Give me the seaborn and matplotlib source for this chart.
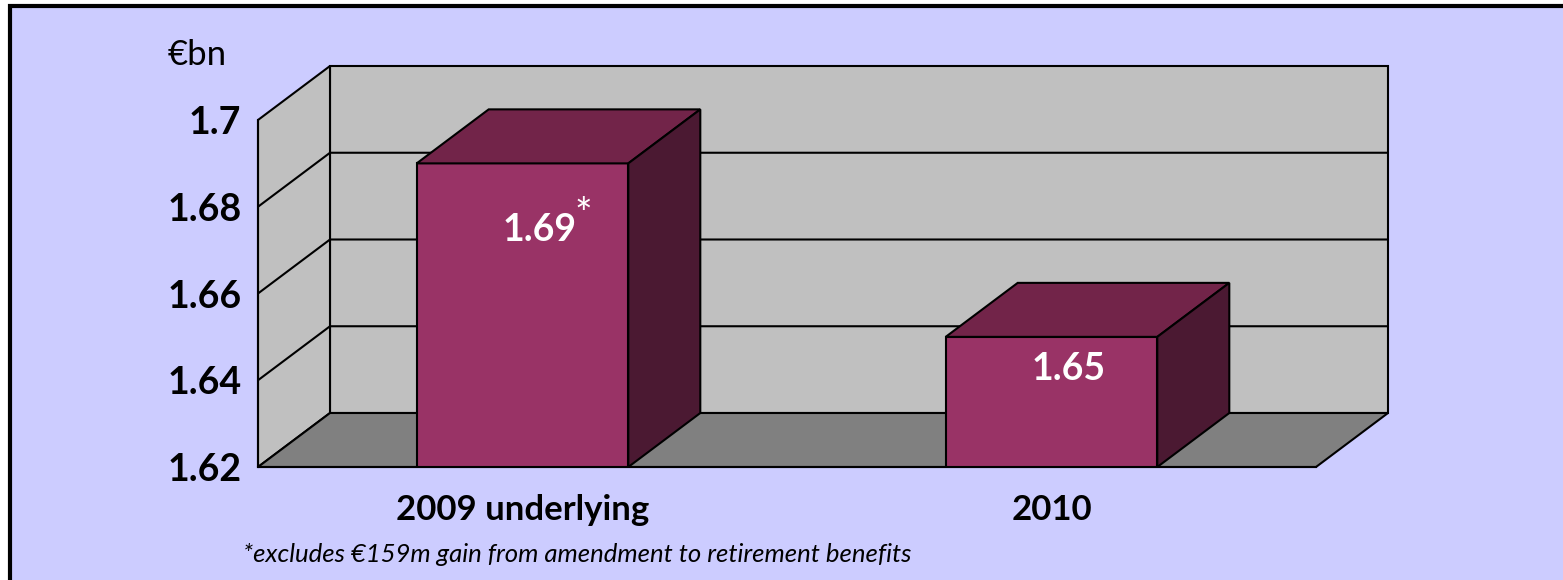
import numpy as np
import pandas as pd
import matplotlib
matplotlib.use("Agg")
import matplotlib.pyplot as plt
from matplotlib.patches import Polygon, Rectangle
import seaborn as sns

# ---- data ----
categories = ["2009 underlying", "2010"]
values = [1.69, 1.65]
value_labels = ["1.69", "1.65"]
value_notes = ["*", ""]
y_ticks = [1.62, 1.64, 1.66, 1.68, 1.70]
y_tick_labels = ["1.62", "1.64", "1.66", "1.68", "1.7"]
y_range = (1.62, 1.70)
unit_label = "€bn"
footnote = "*excludes €159m gain from amendment to retirement benefits"

# ---- style ----
W, H, DPI = 1563, 580, 100
DEPTH_PX = np.array([72.0, 54.0])
FRONT, TOP, SIDE = "#993366", "#722449", "#4B1932"
WALL, FLOOR, BG = "#C0C0C0", "#808080", "#CCCCFF"
LW = 1.5
label_offsets_pt = [(12, -48), (12, -23)]

sns.set_style("white")
plt.rcParams["font.family"] = ["Lato", "DejaVu Sans"]
plt.rcParams["text.color"] = "black"
plt.rcParams["xtick.color"] = "black"
plt.rcParams["ytick.color"] = "black"
plt.rcParams["axes.labelcolor"] = "black"

fig = plt.figure(figsize=(W / DPI, H / DPI), dpi=DPI, facecolor="white")
fig.add_artist(Rectangle((10 / W, -0.05), 1.0, 1 - 6 / H + 0.05,
                         transform=fig.transFigure, fc=BG, ec="black",
                         lw=3, zorder=-10))

ax = fig.add_axes([258 / W, (H - 467) / H, 1058 / W, 347 / H])
ax.set_facecolor("none")

df = pd.DataFrame({"cat": categories, "val": values})
sns.barplot(data=df, x="cat", y="val", color=FRONT, saturation=1, width=0.4,
            edgecolor="black", linewidth=LW, ax=ax, zorder=3)
bars = list(ax.patches)

ax.set_xlim(-0.5, len(categories) - 0.5)
ax.set_ylim(*y_range)
x0, x1 = ax.get_xlim()
y0, y1 = y_range

# depth offset in data units
o = ax.transData.transform((0.0, y0))
p = ax.transData.inverted().transform(o + DEPTH_PX)
ddx, ddy = p[0], p[1] - y0

def poly(pts, fc, z):
    ax.add_patch(Polygon(pts, closed=True, fc=fc, ec="black", lw=LW,
                         clip_on=False, zorder=z, joinstyle="miter"))

# back wall, side wall, floor
poly([(x0 + ddx, y0 + ddy), (x1 + ddx, y0 + ddy), (x1 + ddx, y1 + ddy),
      (x0 + ddx, y1 + ddy)], WALL, 0.5)
poly([(x0, y0), (x0, y1), (x0 + ddx, y1 + ddy), (x0 + ddx, y0 + ddy)], WALL, 0.5)
poly([(x0, y0), (x1, y0), (x1 + ddx, y0 + ddy), (x0 + ddx, y0 + ddy)], FLOOR, 0.7)

for yv in y_ticks[1:-1]:
    ax.plot([x0, x0 + ddx, x1 + ddx], [yv, yv + ddy, yv + ddy], color="black",
            lw=LW, clip_on=False, zorder=0.8, solid_joinstyle="miter")

# 3D bar tops and sides
for b in bars:
    bx, bw = b.get_x(), b.get_width()
    top = b.get_y() + b.get_height()
    poly([(bx, top), (bx + bw, top), (bx + bw + ddx, top + ddy),
          (bx + ddx, top + ddy)], TOP, 3)
    poly([(bx + bw, y0), (bx + bw, top), (bx + bw + ddx, top + ddy),
          (bx + bw + ddx, y0 + ddy)], SIDE, 3)

# value labels
for b, lab, note, off in zip(bars, value_labels, value_notes, label_offsets_pt):
    cx = b.get_x() + b.get_width() / 2
    top = b.get_y() + b.get_height()
    t = ax.annotate(lab, xy=(cx, top), xytext=off, textcoords="offset points",
                    ha="center", va="center", color="white", fontsize=27,
                    fontweight="bold", zorder=6, annotation_clip=False)
    if note:
        ax.annotate(note, xy=(1, 1), xycoords=t, xytext=(-1, -2),
                    textcoords="offset points", ha="left", va="center",
                    color="white", fontsize=30, zorder=6,
                    annotation_clip=False)

# axes styling
for s in ["top", "right"]:
    ax.spines[s].set_visible(False)
for s in ["left", "bottom"]:
    ax.spines[s].set_color("black")
    ax.spines[s].set_linewidth(LW)
    ax.spines[s].set_zorder(5)
ax.set_xlabel("")
ax.set_ylabel("")
ax.set_yticks(y_ticks, y_tick_labels)
ax.tick_params(axis="y", direction="out", length=4, width=LW, color="black",
               labelsize=27, pad=8, labelcolor="black")
for lbl in ax.get_yticklabels():
    lbl.set_fontweight("bold")
ax.set_xticks(range(len(categories)), categories)
ax.set_xticks(np.arange(len(categories) + 1) - 0.5, minor=True)
ax.tick_params(axis="x", which="major", length=0, labelsize=25, pad=19.5,
               labelcolor="black")
ax.tick_params(axis="x", which="minor", direction="out", length=5, width=LW,
               color="black")
for lbl in ax.get_xticklabels():
    lbl.set_fontweight("bold")

fig.text(197 / W, 1 - 55 / H, unit_label, ha="center", va="center",
         fontsize=25, color="black")
fig.text(243 / W, 1 - 554 / H, footnote, ha="left", va="center",
         fontsize=18.5, style="italic", color="black")

fig.savefig("out.png", dpi=DPI, facecolor="white")
